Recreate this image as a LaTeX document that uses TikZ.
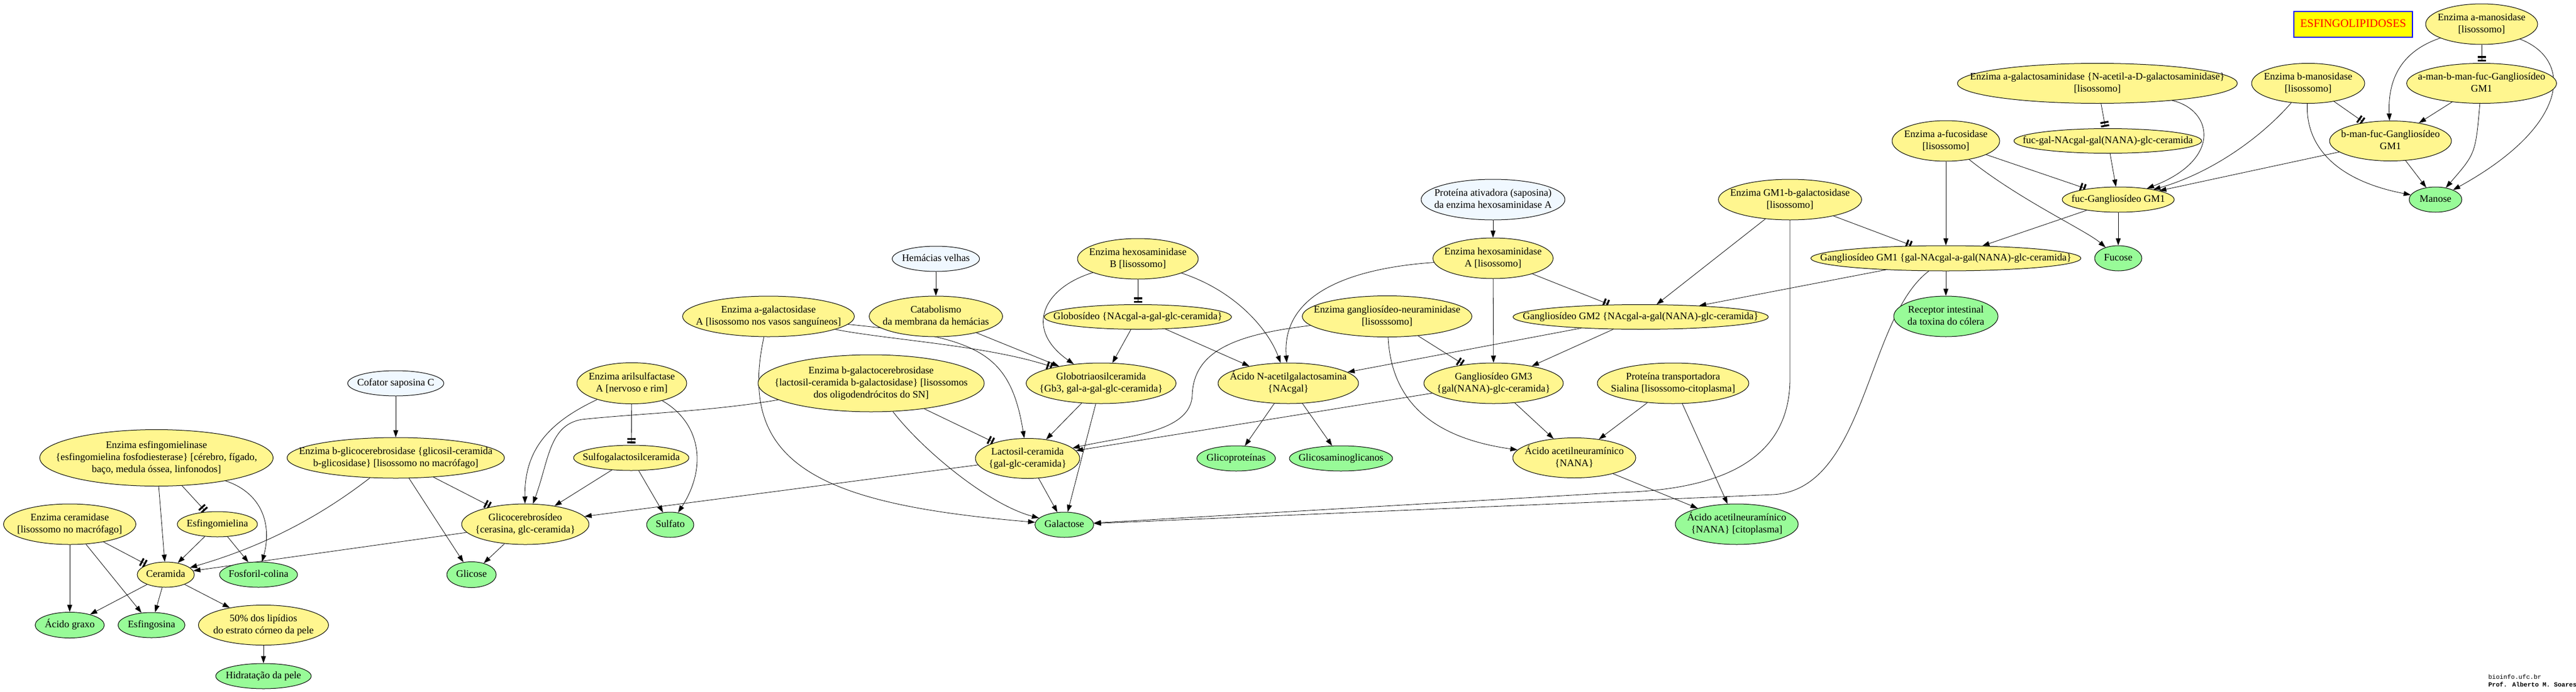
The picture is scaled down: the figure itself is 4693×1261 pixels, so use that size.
\documentclass[tikz,border=0pt]{standalone}
\usepackage{fontspec}
\setmainfont{Liberation Serif}
\newfontfamily\wmfont{Liberation Mono}
\usetikzlibrary{arrows.meta,shapes.geometric,backgrounds}
\definecolor{nodeY}{HTML}{FFF68F}
\definecolor{nodeG}{HTML}{98FB98}
\definecolor{nodeB}{HTML}{F0F8FF}
\definecolor{boxY}{HTML}{FFFF00}
\definecolor{boxB}{HTML}{0000FF}
\definecolor{boxR}{HTML}{FF0000}
\newcommand{\ctext}[1]{\vbox to 0pt{\vss\hbox to 0pt{\hss\begin{tabular}{@{}c@{}}#1\end{tabular}\hss}\vss}}
\tikzset{
  nd/.style={ellipse, draw=black, line width=1pt, inner sep=0pt, font=\fontsize{18.3}{22}\selectfont},
  yel/.style={nd, fill=nodeY},
  grn/.style={nd, fill=nodeG},
  blu/.style={nd, fill=nodeB},
  act/.style={line width=0.8pt, -{Triangle[length=13pt,width=9pt]}},
  inh/.style={line width=0.8pt, -{Rectangle[length=3.3pt,width=15pt,sep=3pt]Rectangle[length=3.3pt,width=15pt,sep=3pt]}},
}
\begin{document}
\begin{tikzpicture}[x=1pt,y=1pt]
\useasboundingbox (0,0) rectangle (4693,-1261);
% title
\node[rectangle, draw=boxB, fill=boxY, line width=1.3pt, inner sep=0pt, minimum width=216pt, minimum height=47pt, text=boxR, font=\fontsize{20.9}{25}\selectfont] (title) at (4287,-44.5) {\ctext{ESFINGOLIPIDOSES}};
% rank 0
\node[yel, minimum width=204pt, minimum height=74pt] (AMAN) at (4521,-44) {\ctext{Enzima a-manosidase\\{}[lisossomo]}};
% rank 1
\node[yel, minimum width=510pt, minimum height=73pt] (AGALN) at (3821,-152) {\ctext{Enzima a-galactosaminidase \{N-acetil-a-D-galactosaminidase\}\\{}[lisossomo]}};
\node[yel, minimum width=206pt, minimum height=73pt] (BMAN) at (4205,-152) {\ctext{Enzima b-manosidase\\{}[lisossomo]}};
\node[yel, minimum width=273pt, minimum height=73pt] (AMBMF) at (4521,-152) {\ctext{a-man-b-man-fuc-Gangliosídeo\\GM1}};
% rank 2
\node[yel, minimum width=196pt, minimum height=74pt] (AFUC) at (3545,-257) {\ctext{Enzima a-fucosidase\\{}[lisossomo]}};
\node[yel, minimum width=342pt, minimum height=45pt] (FGNG) at (3840,-257) {\ctext{fuc-gal-NAcgal-gal(NANA)-glc-ceramida}};
\node[yel, minimum width=222pt, minimum height=73pt] (BMF) at (4355,-257) {\ctext{b-man-fuc-Gangliosídeo\\GM1}};
% rank 3
\node[blu, minimum width=262pt, minimum height=74pt] (PATIV) at (2720,-364) {\ctext{Proteína ativadora (saposina)\\da enzima hexosaminidase A}};
\node[yel, minimum width=261pt, minimum height=74pt] (GM1BGAL) at (3261,-364) {\ctext{Enzima GM1-b-galactosidase\\{}[lisossomo]}};
\node[yel, minimum width=204pt, minimum height=46pt] (FGM1) at (3859,-364) {\ctext{fuc-Gangliosídeo GM1}};
\node[grn, minimum width=96pt, minimum height=46pt] (MANOSE) at (4437,-364) {\ctext{Manose}};
% rank 4
\node[blu, minimum width=159pt, minimum height=46pt] (HEMAC) at (1705,-472) {\ctext{Hemácias velhas}};
\node[yel, minimum width=220pt, minimum height=74pt] (HEXB) at (2073,-472) {\ctext{Enzima hexosaminidase\\B [lisossomo]}};
\node[yel, minimum width=219pt, minimum height=74pt] (HEXA) at (2720,-471) {\ctext{Enzima hexosaminidase\\A [lisossomo]}};
\node[yel, minimum width=492pt, minimum height=46pt] (GM1) at (3545,-471) {\ctext{Gangliosídeo GM1 \{gal-NAcgal-a-gal(NANA)-glc-ceramida\}}};
\node[grn, minimum width=86pt, minimum height=46pt] (FUCOSE) at (3859,-471) {\ctext{Fucose}};
% rank 5
\node[yel, minimum width=313pt, minimum height=74pt] (AGAL) at (1400,-577) {\ctext{Enzima a-galactosidase\\A [lisossomo nos vasos sanguíneos]}};
\node[yel, minimum width=243pt, minimum height=74pt] (CATAB) at (1705,-577) {\ctext{Catabolismo\\da membrana da hemácias}};
\node[yel, minimum width=341pt, minimum height=45pt] (GLOBO) at (2073,-578) {\ctext{Globosídeo \{NAcgal-a-gal-glc-ceramida\}}};
\node[yel, minimum width=309pt, minimum height=75pt] (GNEU) at (2527,-577) {\ctext{Enzima gangliosídeo-neuraminidase\\{}[lisosssomo]}};
\node[yel, minimum width=465pt, minimum height=45pt] (GM2) at (2989,-578) {\ctext{Gangliosídeo GM2 \{NAcgal-a-gal(NANA)-glc-ceramida\}}};
\node[grn, minimum width=190pt, minimum height=74pt] (RECEP) at (3545,-577) {\ctext{Receptor intestinal\\da toxina do cólera}};
% rank 6
\node[blu, minimum width=175pt, minimum height=46pt] (COF) at (721,-699) {\ctext{Cofator saposina C}};
\node[yel, minimum width=200pt, minimum height=75pt] (ARSA) at (1151,-699) {\ctext{Enzima arilsulfactase\\A [nervoso e rim]}};
\node[yel, minimum width=412pt, minimum height=104pt] (BGALC) at (1587,-699) {\ctext{Enzima b-galactocerebrosidase\\\{lactosil-ceramida b-galactosidase\} [lisossomos\\dos oligodendrócitos do SN]}};
\node[yel, minimum width=273pt, minimum height=74pt] (GB3) at (2006,-699) {\ctext{Globotriaosilceramida\\\{Gb3, gal-a-gal-glc-ceramida\}}};
\node[yel, minimum width=256pt, minimum height=74pt] (NACGAL) at (2347,-699) {\ctext{Ácido N-acetilgalactosamina\\\{NAcgal\}}};
\node[yel, minimum width=254pt, minimum height=74pt] (GM3) at (2721,-699) {\ctext{Gangliosídeo GM3\\\{gal(NANA)-glc-ceramida\}}};
\node[yel, minimum width=276pt, minimum height=74pt] (SIAL) at (3048,-699) {\ctext{Proteína transportadora\\Sialina [lisossomo-citoplasma]}};
% rank 7
\node[yel, minimum width=425pt, minimum height=103pt] (SMASE) at (285,-835) {\ctext{Enzima esfingomielinase\\\{esfingomielina fosfodiesterase\} [cérebro, fígado,\\baço, medula óssea, linfonodos]}};
\node[yel, minimum width=396pt, minimum height=74pt] (BGLC) at (721,-835) {\ctext{Enzima b-glicocerebrosidase \{glicosil-ceramida\\b-glicosidase\} [lisossomo no macrófago]}};
\node[yel, minimum width=210pt, minimum height=46pt] (SULFG) at (1150,-835) {\ctext{Sulfogalactosilceramida}};
\node[yel, minimum width=190pt, minimum height=73pt] (LAC) at (1872,-836) {\ctext{Lactosil-ceramida\\\{gal-glc-ceramida\}}};
\node[grn, minimum width=143pt, minimum height=46pt] (GLICOP) at (2252,-836) {\ctext{Glicoproteínas}};
\node[grn, minimum width=188pt, minimum height=46pt] (GLICOS) at (2443,-836) {\ctext{Glicosaminoglicanos}};
\node[yel, minimum width=224pt, minimum height=73pt] (NANA) at (2868,-835) {\ctext{Ácido acetilneuramínico\\\{NANA\}}};
% rank 8
\node[yel, minimum width=241pt, minimum height=74pt] (CERASE) at (127,-956) {\ctext{Enzima ceramidase\\{}[lisossomo no macrófago]}};
\node[yel, minimum width=146pt, minimum height=46pt] (SM) at (396,-956) {\ctext{Esfingomielina}};
\node[yel, minimum width=232pt, minimum height=74pt] (GLCC) at (957,-956) {\ctext{Glicocerebrosídeo\\\{cerasina, glc-ceramida\}}};
\node[grn, minimum width=86pt, minimum height=46pt] (SULFATO) at (1221,-957) {\ctext{Sulfato}};
\node[grn, minimum width=107pt, minimum height=46pt] (GALAC) at (1939,-957) {\ctext{Galactose}};
\node[grn, minimum width=224pt, minimum height=74pt] (NANAC) at (3164,-956) {\ctext{Ácido acetilneuramínico\\\{NANA\} [citoplasma]}};
% rank 9
\node[yel, minimum width=104pt, minimum height=46pt] (CER) at (302,-1048) {\ctext{Ceramida}};
\node[grn, minimum width=142pt, minimum height=46pt] (FOSF) at (471,-1048) {\ctext{Fosforil-colina}};
\node[grn, minimum width=90pt, minimum height=47pt] (GLICOSE) at (859,-1048) {\ctext{Glicose}};
% rank 10
\node[grn, minimum width=126pt, minimum height=47pt] (AGRAXO) at (127,-1140) {\ctext{Ácido graxo}};
\node[grn, minimum width=122pt, minimum height=46pt] (ESFING) at (276,-1140) {\ctext{Esfingosina}};
\node[yel, minimum width=237pt, minimum height=73pt] (LIP) at (480,-1140) {\ctext{50\% dos lipídios\\do estrato córneo da pele}};
% rank 11
\node[grn, minimum width=174pt, minimum height=46pt] (HIDRA) at (480,-1233) {\ctext{Hidratação da pele}};
% watermark
\node[anchor=base west, inner sep=0pt, font=\wmfont\fontsize{11.5}{13}\selectfont] (wm1) at (4533,-1238) {bioinfo.ufc.br};
\node[anchor=base west, inner sep=0pt, font=\wmfont\bfseries\fontsize{11.5}{13}\selectfont] (wm2) at (4533,-1252) {Prof. Alberto M. Soares};

\begin{scope}[on background layer]
\fill[white] (0,0) rectangle (4693,-1261);
% top right
\draw[inh] (AMAN) -- (AMBMF);
\draw[act] (AMAN) .. controls (4370,-95) and (4350,-150) .. (BMF);
\draw[act] (AMAN) .. controls (4690,-110) and (4680,-230) .. (MANOSE);
\draw[act] (AMBMF) -- (BMF);
\draw[act] (AMBMF) .. controls (4510,-280) .. (MANOSE);
\draw[inh] (BMAN) -- (BMF);
\draw[act] (BMAN) .. controls (4200,-270) and (4260,-330) .. (MANOSE);
\draw[act] (BMAN) .. controls (4120,-250) and (4030,-315) .. (FGM1);
\draw[act] (BMF) -- (FGM1);
\draw[act] (BMF) -- (MANOSE);
\draw[inh] (AGALN) -- (FGNG);
\draw[act] (AGALN) .. controls (4030,-200) and (4050,-290) .. (FGM1);
\draw[act] (FGNG) -- (FGM1);
\draw[act] (AFUC) -- (GM1);
\draw[inh] (AFUC) -- (FGM1);
\draw[act] (AFUC) .. controls (3680,-365) and (3800,-420) .. (FUCOSE);
\draw[act] (FGM1) -- (GM1);
\draw[act] (FGM1) -- (FUCOSE);
\draw[inh] (GM1BGAL) -- (GM1);
\draw[act] (GM1BGAL) -- (GM2);
\draw[act] (GM1BGAL) -- (3261,-690) .. controls (3261,-830) and (3150,-893) .. (2950,-898) -- (GALAC);
\draw[act] (GM1) .. controls (3400,-580) and (3400,-893) .. (3230,-902) -- (GALAC);
\draw[act] (GM1) -- (RECEP);
\draw[act] (GM1) -- (GM2);
% middle
\draw[act] (PATIV) -- (HEXA);
\draw[inh] (HEXA) -- (GM2);
\draw[act] (HEXA) -- (GM3);
\draw[act] (HEXA) .. controls (2450,-490) and (2335,-540) .. (NACGAL);
\draw[inh] (GNEU) -- (GM3);
\draw[act] (GNEU) .. controls (2535,-740) and (2620,-800) .. (NANA);
\draw[act] (GNEU) .. controls (2250,-610) and (2175,-640) .. (2172,-720) .. controls (2170,-790) and (2050,-795) .. (LAC);
\draw[act] (GM2) -- (NACGAL);
\draw[act] (GM2) -- (GM3);
\draw[act] (GM3) -- (NANA);
\draw[act] (GM3) -- (LAC);
\draw[act] (SIAL) -- (NANA);
\draw[act] (SIAL) -- (NANAC);
\draw[act] (NANA) -- (NANAC);
\draw[inh] (HEXB) -- (GLOBO);
\draw[act] (HEXB) .. controls (1900,-525) and (1865,-600) .. (GB3);
\draw[act] (HEXB) .. controls (2250,-530) and (2310,-600) .. (NACGAL);
\draw[act] (GLOBO) -- (GB3);
\draw[act] (GLOBO) -- (NACGAL);
\draw[act] (HEMAC) -- (CATAB);
\draw[act] (CATAB) -- (GB3);
\draw[inh] (AGAL) .. controls (1620,-620) and (1800,-630) .. (GB3);
\draw[act] (AGAL) .. controls (1780,-615) and (1840,-640) .. (LAC);
\draw[act] (AGAL) .. controls (1340,-850) and (1500,-920) .. (GALAC);
\draw[inh] (BGALC) -- (LAC);
\draw[act] (BGALC) .. controls (1680,-820) and (1800,-920) .. (GALAC);
\draw[act] (BGALC) .. controls (1300,-750) and (1150,-755) .. (1060,-765) .. controls (1000,-775) and (1000,-840) .. (GLCC);
\draw[inh] (ARSA) -- (SULFG);
\draw[act] (ARSA) .. controls (1000,-770) and (955,-820) .. (GLCC);
\draw[act] (ARSA) .. controls (1275,-770) and (1290,-850) .. (SULFATO);
\draw[act] (SULFG) -- (GLCC);
\draw[act] (SULFG) -- (SULFATO);
\draw[act] (LAC) -- (GLCC);
\draw[act] (GB3) -- (LAC);
\draw[act] (GB3) -- (GALAC);
\draw[act] (LAC) -- (GALAC);
\draw[act] (NACGAL) -- (GLICOP);
\draw[act] (NACGAL) -- (GLICOS);
% left
\draw[act] (COF) -- (BGLC);
\draw[inh] (BGLC) -- (GLCC);
\draw[act] (BGLC) -- (GLICOSE);
\draw[act] (BGLC) .. controls (560,-960) and (450,-1005) .. (CER);
\draw[act] (GLCC) -- (GLICOSE);
\draw[act] (GLCC) -- (CER);
\draw[inh] (SMASE) -- (SM);
\draw[act] (SMASE) -- (CER);
\draw[act] (SMASE) .. controls (480,-900) and (495,-960) .. (FOSF);
\draw[act] (SM) -- (CER);
\draw[act] (SM) -- (FOSF);
\draw[inh] (CERASE) -- (CER);
\draw[act] (CERASE) -- (AGRAXO);
\draw[act] (CERASE) -- (ESFING);
\draw[act] (CER) -- (AGRAXO);
\draw[act] (CER) -- (ESFING);
\draw[act] (CER) -- (LIP);
\draw[act] (LIP) -- (HIDRA);
\end{scope}
\end{tikzpicture}
\end{document}
